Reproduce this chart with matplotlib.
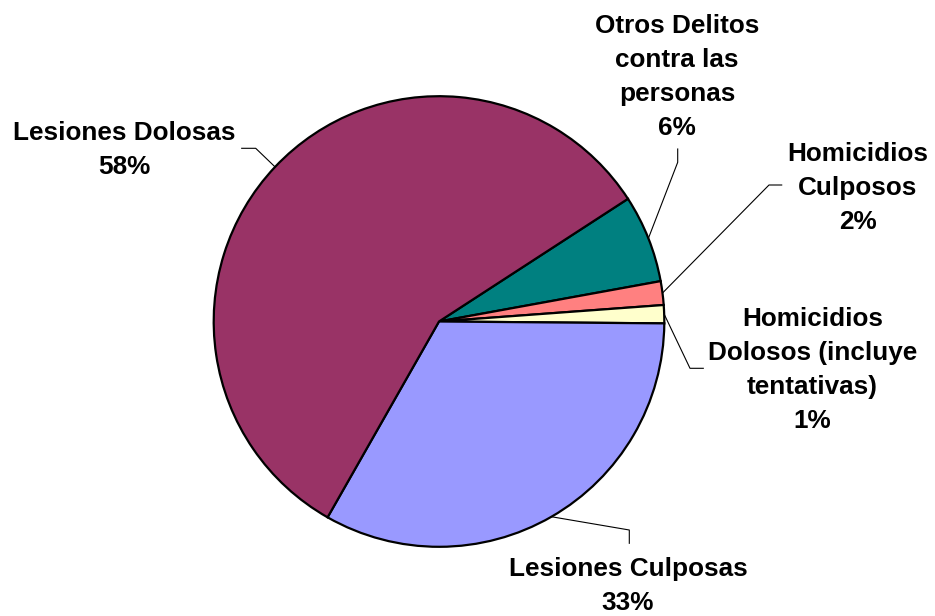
import matplotlib
matplotlib.use("Agg")
import matplotlib.pyplot as plt
import numpy as np

# slices in clockwise order, starting at the upper right
names = ["Otros Delitos\ncontra las\npersonas", "Homicidios\nCulposos",
         "Homicidios\nDolosos (incluye\ntentativas)", "Lesiones Culposas",
         "Lesiones Dolosas"]
values = [6.3, 1.7, 1.3, 33.1, 57.6]
colors = ["#008080", "#FF8080", "#FFFFCC", "#9999FF", "#993366"]

W, H = 935, 616
cx, cy, r = 439, H - 321.5, 225.3   # pie centre / radius in pixels
start = 33

# label layout in image pixels: text (x, last baseline), elbow, end of leader
layout = [
    ((677, 135), (677.7, 162.3), (677.7, 149)),
    ((857.5, 229.3), (769, 185), (781.7, 185)),
    ((812.5, 428), (690, 368.3), (703.3, 368.3)),
    ((628, 610), (629.3, 530), (629.3, 543.3)),
    ((124, 174), (255.7, 148.3), (241.7, 148.3)),
]

fig = plt.figure(figsize=(W / 100, H / 100), dpi=100)
ax = fig.add_axes([0, 0, 1, 1])
ax.pie(values, colors=colors, startangle=start, counterclock=False,
       center=(cx, cy), radius=r,
       wedgeprops=dict(edgecolor="black", linewidth=1.6))
ax.set_xlim(0, W)
ax.set_ylim(0, H)
ax.set_aspect("equal")
ax.axis("off")

total = sum(values)
cum = 0
for name, v, (txt, elbow, end) in zip(names, values, layout):
    mid = np.radians(start - 360 * (cum + v / 2) / total)
    cum += v
    ex, ey = cx + r * np.cos(mid), cy + r * np.sin(mid)
    ax.plot([ex, elbow[0], end[0]], [ey, H - elbow[1], H - end[1]],
            color="black", lw=0.8, zorder=3)
    ax.text(txt[0], H - txt[1], "%s\n%.0f%%" % (name, 100 * v / total),
            ha="center", va="baseline", multialignment="center",
            family="Liberation Sans", weight="bold", fontsize=18.8,
            linespacing=1.53)

fig.savefig("out.png", dpi=100)
